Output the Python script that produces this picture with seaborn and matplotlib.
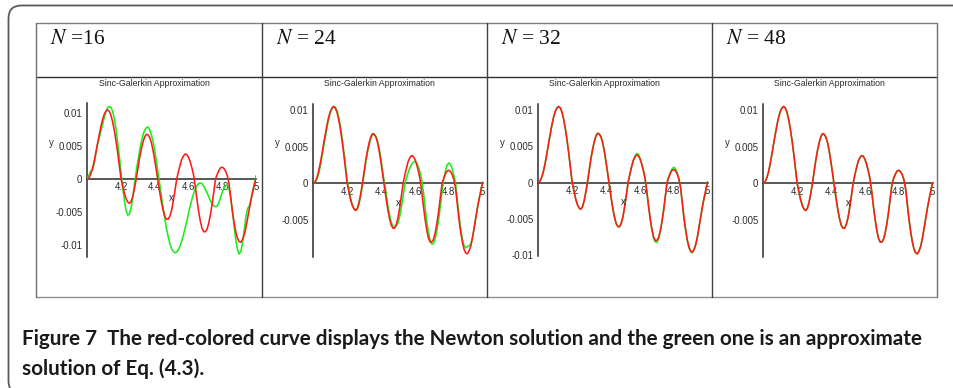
import numpy as np
import pandas as pd
import matplotlib
matplotlib.use("Agg")
import matplotlib.pyplot as plt
from matplotlib.lines import Line2D
from matplotlib.patches import FancyBboxPatch
from matplotlib.transforms import IdentityTransform
from matplotlib.ticker import MultipleLocator
import seaborn as sns

# ---------------- data ----------------
panel_labels = [r"$N$ =16", r"$N$ = 24", r"$N$ = 32", r"$N$ = 48"]
plot_title = "Sinc-Galerkin Approximation"

x_grid = np.round(np.linspace(4.0, 5.0, 101), 2)

newton_y = [
    0.0, 0.0002, 0.0007, 0.0015, 0.0026, 0.0039, 0.0053, 0.0066, 0.0079, 0.0090,
    0.0098, 0.0103, 0.0105, 0.0103, 0.0097, 0.0087, 0.0074, 0.0058, 0.0040, 0.0020,
    0.0000, -0.0011, -0.0022, -0.0030, -0.0035, -0.0037, -0.0034, -0.0026, -0.0014, 0.0000,
    0.0016, 0.0032, 0.0045, 0.0056, 0.0064, 0.0068, 0.0067, 0.0063, 0.0055, 0.0043,
    0.0028, 0.0012, -0.0005, -0.0021, -0.0036, -0.0048, -0.0057, -0.0061, -0.0061, -0.0056,
    -0.0047, -0.0033, -0.0017, 0.0000, 0.0011, 0.0021, 0.0030, 0.0035, 0.0038, 0.0037,
    0.0033, 0.0026, 0.0017, 0.0006, -0.0011, -0.0031, -0.0049, -0.0064, -0.0075, -0.0080,
    -0.0080, -0.0076, -0.0067, -0.0054, -0.0038, -0.0019, 0.0000, 0.0007, 0.0013, 0.0017,
    0.0018, 0.0016, 0.0012, 0.0005, -0.0007, -0.0028, -0.0049, -0.0066, -0.0080, -0.0090,
    -0.0095, -0.0096, -0.0092, -0.0085, -0.0074, -0.0060, -0.0046, -0.0032, -0.0020, -0.0009,
    0.0001]

sinc_y_16 = [
    0.0, 0.0006, 0.0012, 0.0014, 0.0022, 0.0038, 0.0052, 0.0062, 0.0072, 0.0082,
    0.0093, 0.0102, 0.0108, 0.0110, 0.0109, 0.0103, 0.0092, 0.0076, 0.0056, 0.0034,
    0.0010, -0.0013, -0.0033, -0.0048, -0.0055, -0.0053, -0.0043, -0.0027, -0.0007, 0.0012,
    0.0028, 0.0043, 0.0056, 0.0067, 0.0074, 0.0078, 0.0079, 0.0075, 0.0067, 0.0057,
    0.0043, 0.0026, 0.0009, -0.0009, -0.0027, -0.0045, -0.0061, -0.0076, -0.0088, -0.0099,
    -0.0106, -0.0110, -0.0112, -0.0111, -0.0107, -0.0102, -0.0094, -0.0085, -0.0074, -0.0064,
    -0.0052, -0.0041, -0.0031, -0.0022, -0.0015, -0.0010, -0.0007, -0.0006, -0.0007, -0.0011,
    -0.0016, -0.0021, -0.0027, -0.0033, -0.0038, -0.0041, -0.0042, -0.0041, -0.0036, -0.0028,
    -0.0020, -0.0014, -0.0010, -0.0009, -0.0014, -0.0028, -0.0048, -0.0071, -0.0092, -0.0107,
    -0.0114, -0.0110, -0.0097, -0.0078, -0.0058, -0.0045, -0.0041, -0.0032, -0.0019, -0.0007,
    0.0005]

sinc_y_24 = [
    0.0, 0.0001, 0.0005, 0.0012, 0.0022, 0.0035, 0.0049, 0.0062, 0.0075, 0.0087,
    0.0096, 0.0102, 0.0105, 0.0104, 0.0099, 0.0090, 0.0078, 0.0062, 0.0044, 0.0024,
    0.0004, -0.0009, -0.0021, -0.0029, -0.0034, -0.0036, -0.0035, -0.0028, -0.0017, -0.0003,
    0.0013, 0.0029, 0.0042, 0.0053, 0.0062, 0.0066, 0.0067, 0.0064, 0.0057, 0.0046,
    0.0032, 0.0016, 0.0000, -0.0014, -0.0030, -0.0043, -0.0053, -0.0058, -0.0060, -0.0058,
    -0.0054, -0.0045, -0.0032, -0.0018, -0.0002, 0.0007, 0.0015, 0.0021, 0.0026, 0.0029,
    0.0030, 0.0028, 0.0023, 0.0015, 0.0005, -0.0011, -0.0033, -0.0052, -0.0067, -0.0078,
    -0.0083, -0.0082, -0.0075, -0.0064, -0.0049, -0.0031, -0.0011, 0.0006, 0.0017, 0.0025,
    0.0028, 0.0026, 0.0020, 0.0011, 0.0000, -0.0023, -0.0044, -0.0062, -0.0076, -0.0085,
    -0.0088, -0.0086, -0.0085, -0.0083, -0.0073, -0.0060, -0.0046, -0.0032, -0.0020, -0.0009,
    0.0002]

sinc_y_32 = [
    0.0, 0.0002, 0.0007, 0.0015, 0.0026, 0.0039, 0.0053, 0.0066, 0.0079, 0.0090,
    0.0098, 0.0103, 0.0105, 0.0103, 0.0097, 0.0087, 0.0074, 0.0058, 0.0040, 0.0020,
    0.0000, -0.0011, -0.0022, -0.0030, -0.0035, -0.0037, -0.0034, -0.0026, -0.0014, 0.0000,
    0.0016, 0.0032, 0.0045, 0.0056, 0.0064, 0.0068, 0.0067, 0.0063, 0.0055, 0.0043,
    0.0028, 0.0012, -0.0005, -0.0021, -0.0036, -0.0048, -0.0057, -0.0061, -0.0061, -0.0056,
    -0.0047, -0.0033, -0.0017, 0.0000, 0.0011, 0.0021, 0.0030, 0.0036, 0.0040, 0.0039,
    0.0034, 0.0026, 0.0017, 0.0006, -0.0011, -0.0031, -0.0049, -0.0064, -0.0076, -0.0082,
    -0.0083, -0.0078, -0.0068, -0.0054, -0.0038, -0.0019, 0.0000, 0.0008, 0.0014, 0.0019,
    0.0021, 0.0019, 0.0013, 0.0005, -0.0007, -0.0028, -0.0049, -0.0066, -0.0080, -0.0090,
    -0.0096, -0.0097, -0.0093, -0.0085, -0.0074, -0.0060, -0.0046, -0.0032, -0.0020, -0.0009,
    0.0001]

sinc_y_48 = list(newton_y)

sinc_series = [sinc_y_16, sinc_y_24, sinc_y_32, sinc_y_48]

y_ticks = [[0.01, 0.005, 0.0, -0.005, -0.01],
           [0.01, 0.005, 0.0, -0.005],
           [0.01, 0.005, 0.0, -0.005, -0.01],
           [0.01, 0.005, 0.0, -0.005]]
y_tick_labels = [["0.01", "0.005", "0", "-0.005", "-0.01"],
                 ["0.01", "0.005", "0", "-0.005"],
                 ["0.01", "0.005", "0", "-0.005", "-0.01"],
                 ["0.01", "0.005", "0", "-0.005"]]
x_ticks = [4.2, 4.4, 4.6, 4.8, 5.0]
x_tick_labels = ["4.2", "4.4", "4.6", "4.8", "5"]

caption_line1 = "Figure 7  The red-colored curve displays the Newton solution and the green one is an approximate"
caption_line2 = "solution of Eq. (4.3)."

# ---------------- layout (pixels) ----------------
W, H = 954, 388
sns.set_style("white")
plt.rcParams["font.family"] = ["Liberation Sans", "DejaVu Sans"]
plt.rcParams["mathtext.fontset"] = "stix"
plt.rcParams["axes.unicode_minus"] = False

fig = plt.figure(figsize=(W / 100, H / 100), dpi=100)
fig.patch.set_facecolor("white")


def fx(px):
    return px / W


def fy(py):
    return 1 - py / H


# rounded outer frame
fig.add_artist(FancyBboxPatch((8.5, -6), 990, 388.5, boxstyle="round,pad=0,rounding_size=13",
                              transform=IdentityTransform(), fill=False,
                              edgecolor="#5a5a5a", linewidth=1.3))

# table grid
col_x = [36, 262, 487, 712, 937]
row_top, row_mid, row_bot = 23, 77, 297
for y, c in [(row_top, "#808080"), (row_mid, "#303030"), (row_bot, "#909090")]:
    fig.add_artist(Line2D([fx(col_x[0]), fx(col_x[-1])], [fy(y), fy(y)],
                          transform=fig.transFigure, color=c, lw=1.0))
for i, x in enumerate(col_x):
    fig.add_artist(Line2D([fx(x), fx(x)], [fy(row_top), fy(row_bot)],
                          transform=fig.transFigure,
                          color="#404040" if 0 < i < 4 else "#707070", lw=1.0))

# panel axes geometry: (x at 4, x at 5, top px, bottom px, ylim)
geom = [
    (87.3, 256.0, 103.3, 256.7, (-0.0118, 0.0115)),
    (313.3, 482.7, 104.3, 256.7, (-0.0100, 0.0108)),
    (538.3, 707.7, 104.3, 256.0, (-0.01015, 0.0108)),
    (763.3, 932.7, 104.3, 256.7, (-0.0100, 0.0108)),
]

ink = "#2a2a2a"
for i in range(4):
    x0, x1, top, bot, ylim = geom[i]
    # header label
    fig.text(fx(col_x[i] + 14), fy(44.5), panel_labels[i], fontsize=15.5,
             fontfamily=["Liberation Serif", "DejaVu Serif"],
             ha="left", va="baseline", color="#111111")
    # plot title
    fig.text(fx((col_x[i] + col_x[i + 1]) / 2 + 5), fy(83), plot_title,
             fontsize=6.3, ha="center", va="center", color=ink)

    ax = fig.add_axes([fx(x0), fy(bot), fx(x1) - fx(x0), fy(top) - fy(bot)])
    ax.patch.set_visible(False)
    df = pd.DataFrame({"x": x_grid, "newton": newton_y, "sinc": sinc_series[i]})
    sns.lineplot(data=df, x="x", y="sinc", ax=ax, color="#19ee19", lw=1.15)
    sns.lineplot(data=df, x="x", y="newton", ax=ax, color="#ff1a1a", lw=1.15)
    ax.set_xlim(4.0, 5.0)
    ax.set_ylim(*ylim)
    ax.set_xlabel("")
    ax.set_ylabel("")
    for s in ["top", "right"]:
        ax.spines[s].set_visible(False)
    ax.spines["bottom"].set_position(("data", 0))
    for s in ["left", "bottom"]:
        ax.spines[s].set_color(ink)
        ax.spines[s].set_linewidth(1.1)
        ax.spines[s].set_zorder(0.5)
    ax.set_xticks(x_ticks)
    ax.set_xticklabels(x_tick_labels)
    ax.set_yticks(y_ticks[i])
    ax.set_yticklabels(y_tick_labels[i])
    ax.xaxis.set_minor_locator(MultipleLocator(0.05))
    ax.yaxis.set_minor_locator(MultipleLocator(0.001))
    ax.tick_params(axis="both", which="major", direction="inout", length=4, width=0.8,
                   colors=ink, labelsize=6.9, pad=1.5)
    ax.tick_params(axis="both", which="minor", direction="inout", length=2, width=0.6,
                   colors=ink)
    ax.tick_params(axis="x", which="major", pad=0.5)
    ax.annotate("x", xy=(4.5, 0), xycoords="data", xytext=(0, -14), textcoords="offset points",
                ha="center", va="center", fontsize=6.9, color=ink)
    ax.annotate("y", xy=(4.0, 0.0055), xycoords="data", xytext=(-26, 0),
                textcoords="offset points", ha="center", va="center", fontsize=6.9, color=ink)

# caption, sized to match the reference line width
cap_kw = dict(fontfamily=["Lato", "DejaVu Sans"], fontweight="bold", color="#1a1a1a",
              ha="left", va="center")
t1 = fig.text(fx(22), fy(339), caption_line1, fontsize=13, **cap_kw)
fig.canvas.draw()
w = t1.get_window_extent().width
fs = 13 * 897 / w
t1.set_fontsize(fs)
fig.text(fx(22), fy(369), caption_line2, fontsize=fs, **cap_kw)

fig.savefig("out.png", dpi=100, facecolor="white")
